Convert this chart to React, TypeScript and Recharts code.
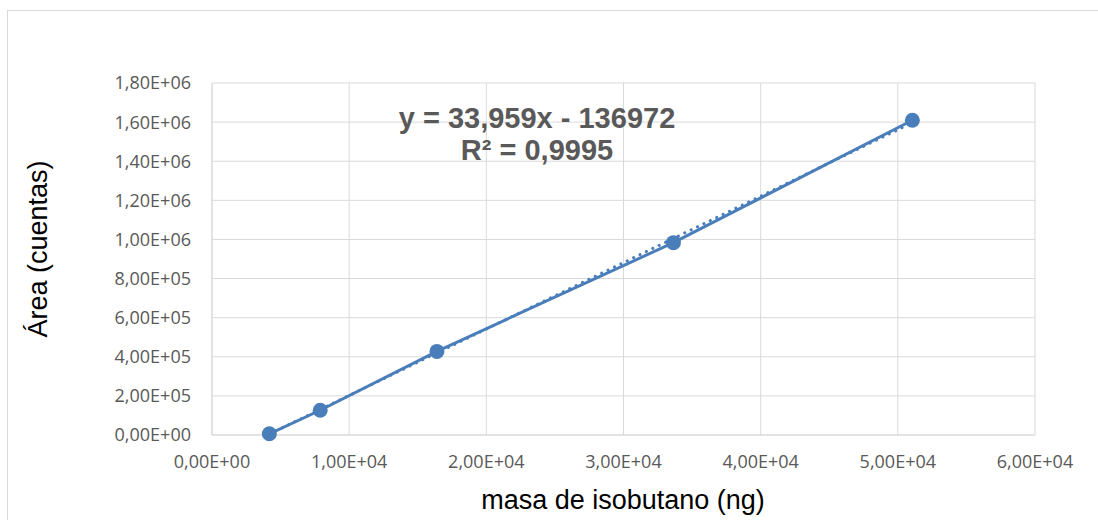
import { ComposedChart, Line, XAxis, YAxis, CartesianGrid, Label } from 'recharts';

// mass of isobutane (ng) vs. peak area (counts)
const masa = [4180, 7890, 16400, 33640, 51060];
const area = [6100, 126500, 427500, 983700, 1609700];

// linear trendline ends (dotted)
const trendMasa = [4180, 51060];
const trendArea = [4800, 1596900];

const xTicks = [0, 10000, 20000, 30000, 40000, 50000, 60000];
const yTicks = [0, 200000, 400000, 600000, 800000, 1000000, 1200000, 1400000, 1600000, 1800000];

const equation = 'y = 33,959x - 136972';
const rSquared = 'R² = 0,9995';

const points = masa.map((x, i) => ({ x, y: area[i] }));
const trend = trendMasa.map((x, i) => ({ x, y: trendArea[i] }));

const BLUE = '#4a7ebb';
const GRID = '#d9d9d9';
const TEXT = '#595959';

// Excel-style scientific format: 1,80E+06
const sci = (v: number) => {
  const [m, e] = v.toExponential(2).split('e');
  const n = Number(e);
  return `${m.replace('.', ',')}E${n < 0 ? '-' : '+'}${String(Math.abs(n)).padStart(2, '0')}`;
};

const tickStyle = { fill: TEXT, fontSize: 18, fontFamily: '"Open Sans", sans-serif' };

export default function App() {
  return (
    <div style={{ position: 'relative', width: 1098, height: 520, background: '#fff', fontFamily: '"Liberation Sans", Arial, sans-serif' }}>
      <style>{'body{margin:0}'}</style>
      {/* chart border */}
      <div
        style={{
          position: 'absolute',
          left: 7,
          top: 10,
          width: 1100,
          height: 530,
          border: `1px solid ${GRID}`,
          boxSizing: 'border-box',
        }}
      />
      <ComposedChart width={1098} height={520} margin={{ top: 83, right: 63, bottom: 0, left: 0 }}>
        <CartesianGrid stroke={GRID} strokeWidth={1} />
        <XAxis
          type="number"
          dataKey="x"
          domain={[0, 60000]}
          ticks={xTicks}
          tickFormatter={sci}
          tick={tickStyle}
          tickLine={false}
          tickMargin={14}
          axisLine={{ stroke: GRID }}
          height={85}
          interval={0}
        >
          <Label
            content={() => (
              <text x={623} y={500} textAnchor="middle" dominantBaseline="central" fill="#000" fontSize={27} fontFamily='"Liberation Sans", Arial, sans-serif'>
                masa de isobutano (ng)
              </text>
            )}
          />
        </XAxis>
        <YAxis
          type="number"
          dataKey="y"
          domain={[0, 1800000]}
          ticks={yTicks}
          tickFormatter={sci}
          tick={tickStyle}
          tickLine={false}
          tickMargin={15}
          axisLine={{ stroke: GRID }}
          width={212}
          interval={0}
        >
          <Label
            content={() => (
              <text
                x={38}
                y={249}
                transform="rotate(-90 38 249)"
                textAnchor="middle"
                dominantBaseline="central"
                fill="#000"
                fontSize={27}
                fontFamily='"Liberation Sans", Arial, sans-serif'
              >
                Área (cuentas)
              </text>
            )}
          />
        </YAxis>
        <Line
          data={points}
          dataKey="y"
          type="linear"
          stroke={BLUE}
          strokeWidth={3}
          dot={{ r: 7.5, fill: BLUE, stroke: BLUE, strokeWidth: 0 }}
          activeDot={false}
          isAnimationActive={false}
        />
        <Line
          data={trend}
          dataKey="y"
          type="linear"
          stroke={BLUE}
          strokeWidth={3}
          strokeDasharray="0.1 7"
          strokeLinecap="round"
          dot={false}
          activeDot={false}
          isAnimationActive={false}
        />
      </ComposedChart>
      <div
        style={{
          position: 'absolute',
          left: 337,
          top: 102,
          width: 400,
          textAlign: 'center',
          color: TEXT,
          fontWeight: 'bold',
          fontSize: 29,
          lineHeight: '32px',
        }}
      >
        <div>{equation}</div>
        <div>{rSquared}</div>
      </div>
    </div>
  );
}
